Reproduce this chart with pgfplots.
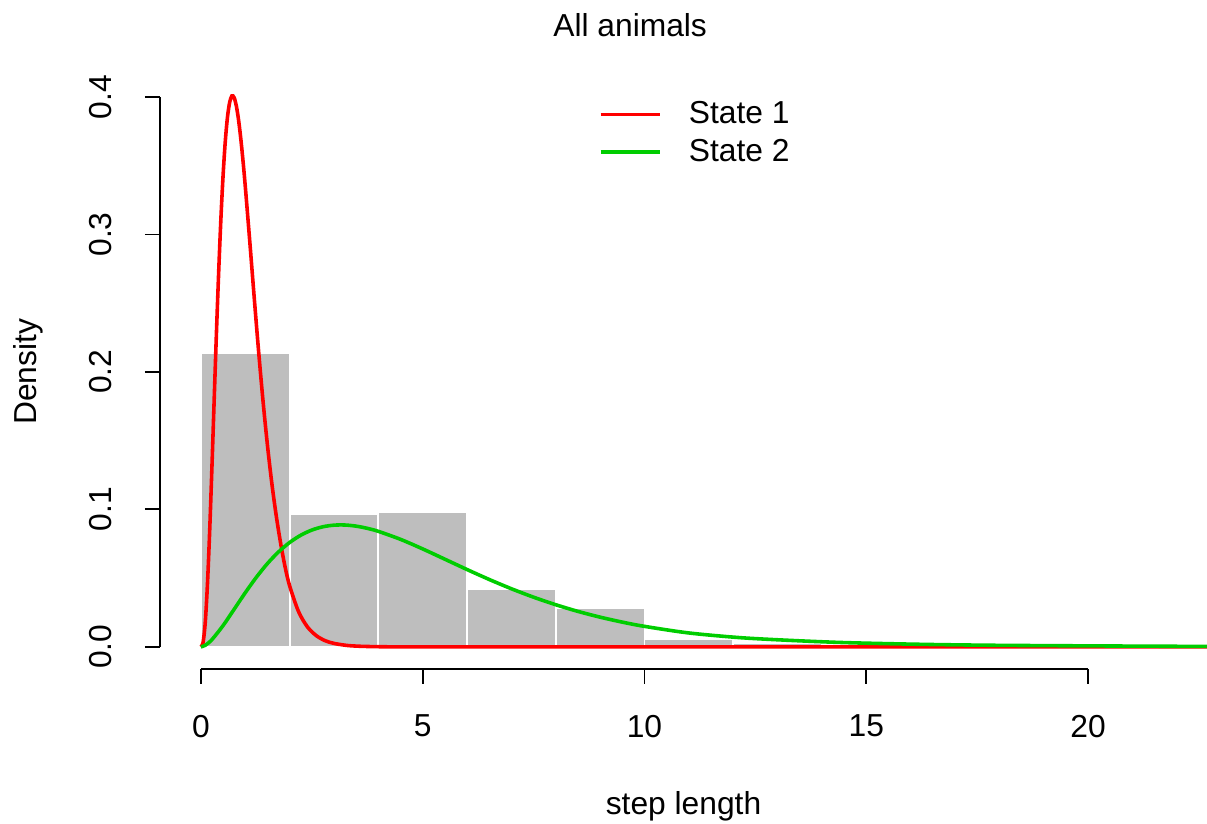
\documentclass[border=0pt]{standalone}
\usepackage{fontspec}
\setmainfont{Liberation Sans}
\usepackage{pgfplots}
\pgfplotsset{compat=1.18}
\definecolor{rred}{HTML}{FF0000}
\definecolor{rgreen}{HTML}{00CD00}
\definecolor{rgray}{HTML}{BEBEBE}
\newcommand{\rfont}{\fontsize{13.3}{15.5}\selectfont}
\begin{document}
\begin{tikzpicture}
\begin{axis}[
  scale only axis, width=438.3pt, height=248.6pt,
  xmin=-0.92, xmax=22.68, ymin=-0.016, ymax=0.416,
  clip=false,
  axis x line*=bottom, axis y line*=left,
  axis line style={draw=none},
  xtick={0,5,10,15,20}, xticklabels={0,5,10,15,20},
  ytick={0,0.1,0.2,0.3,0.4}, yticklabels={0.0,0.1,0.2,0.3,0.4},
  tick align=outside, major tick length=6.3pt,
  tick style={black, line width=0.75pt},
  ticklabel style={font=\rfont},
  yticklabel style={xshift=-10.5pt, rotate=90, anchor=south},
  xticklabel style={anchor=north, yshift=-9.5pt},
  legend style={draw=none, fill=none, at={(axis cs:8.8,0.404)}, anchor=north west,
    font=\rfont, row sep=1pt},
  legend cell align=left,
  legend image code/.code={\draw[#1] (0pt,0pt) -- (25pt,0pt); \path (34.2pt,0pt);},
]
\addplot[ybar interval, fill=rgray, draw=white, line width=0.8pt, forget plot] coordinates {
(0,0.2135) (2,0.0967) (4,0.0977) (6,0.0420) (8,0.0281) (10,0.0057)
(12,0.0031) (14,0.0022) (16,0.0020) (18,0.0020) (20,0.0020)};
\addplot[rred, line width=1.5pt, smooth] coordinates {
(0,0) (0.05,0.0032) (0.1,0.0181) (0.15,0.0464) (0.2,0.0853) (0.25,0.1310)
(0.3,0.1794) (0.35,0.2271) (0.4,0.2712) (0.45,0.3101) (0.5,0.3423)
(0.55,0.3674) (0.6,0.3853) (0.65,0.3962) (0.7,0.4008) (0.75,0.3996)
(0.8,0.3935) (0.85,0.3833) (0.9,0.3697) (0.95,0.3536) (1.0,0.3355)
(1.1,0.2960) (1.2,0.2552) (1.3,0.2157) (1.4,0.1793) (1.5,0.1470)
(1.6,0.1189) (1.7,0.0952) (1.8,0.0750) (1.9,0.0580) (2.0,0.0445)
(2.2,0.0258) (2.4,0.0146) (2.6,0.0082) (2.8,0.0045) (3.0,0.0025)
(3.3,0.0010) (3.6,0.0004) (4,0.0001) (4.5,0) (6,0) (10,0) (16,0) (22.68,0)};
\addlegendentry{State 1}
\addplot[rgreen, line width=1.5pt, smooth] coordinates {
(0,0) (0.1,0.00115) (0.25,0.00527) (0.5,0.01543) (0.75,0.02731) (1.0,0.03932)
(1.25,0.05057) (1.5,0.06056) (1.75,0.06902) (2.0,0.07588) (2.25,0.08115)
(2.5,0.08494) (2.75,0.08734) (3.0,0.08852) (3.25,0.08862) (3.5,0.08781)
(3.75,0.08623) (4.0,0.08402) (4.5,0.07821) (5.0,0.07124) (5.5,0.06376)
(6.0,0.05624) (6.5,0.04901) (7.0,0.04226) (7.5,0.03612) (8.0,0.03063)
(8.5,0.02579) (9.0,0.02160) (9.5,0.01798) (10,0.01490) (11,0.0101)
(12.15,0.0067) (13.28,0.0047) (14.4,0.0032) (15.5,0.0023) (16.66,0.0016)
(18,0.0011) (20,0.0007) (22.68,0.0003)};
\addlegendentry{State 2}
\draw[line width=0.75pt] (axis cs:0,-0.016) -- (axis cs:20,-0.016);
\draw[line width=0.75pt] (axis cs:-0.92,0) -- (axis cs:-0.92,0.4);
\node[anchor=center, font=\rfont] at ([yshift=20.9pt]rel axis cs:0.449,1) {All animals};
\node[anchor=center, font=\rfont] at ([yshift=-57.4pt]rel axis cs:0.5,0) {step length};
\node[anchor=center, rotate=90, font=\rfont] at ([xshift=-55.3pt]rel axis cs:0,0.5) {Density};
\coordinate (SW) at (rel axis cs:0,0);
\coordinate (NE) at (rel axis cs:1,1);
\end{axis}
\pgfresetboundingbox
\path ([shift={(-67pt,-64.9pt)}]SW) rectangle ([shift={(0pt,31.4pt)}]NE);
\end{tikzpicture}
\end{document}
